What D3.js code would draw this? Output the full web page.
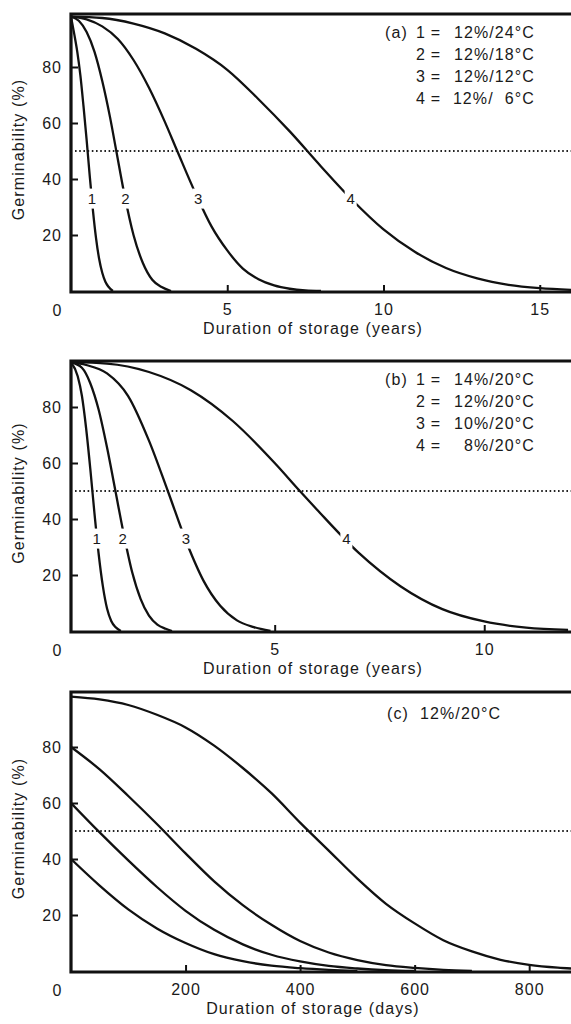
<!DOCTYPE html>
<html>
<head>
<meta charset="utf-8">
<script src="https://cdn.jsdelivr.net/npm/d3@7"></script>
<style>
  body { margin: 0; background: #fff; }
  text { font-family: "Liberation Sans", Arial, sans-serif; fill: #1a1a1a; }
</style>
</head>
<body>
<div id="chart"></div>
<script>
// tick values
const yTicks = [20, 40, 60, 80];
const aTicks = [5, 10, 15];
const bTicks = [5, 10];
const cTicks = [200, 400, 600, 800];

// legends
const aNums = ["1", "2", "3", "4"];
const aLegend = ["12%/24°C", "12%/18°C", "12%/12°C", "12%/  6°C"];
const bNums = ["1", "2", "3", "4"];
const bLegend = ["14%/20°C", "12%/20°C", "10%/20°C", "8%/20°C"];
const cLegend = "(c)  12%/20°C";

// curve label positions (x value where number sits, at ~33 %)
const aLabelX = [0.67, 1.74, 4.07, 8.95];
const bLabelX = [0.75, 1.37, 2.88, 6.71];
const labelY = 33;

// panel (a): years vs germinability
const aCurve1 = [[0,98],[0.1,92],[0.2,85.5],[0.3,77],[0.4,66],[0.5,54],[0.6,41],[0.7,29],[0.8,19],[0.9,11.5],[1.0,6.5],[1.1,3.3],[1.2,1.5],[1.34,0]];
const aCurve2 = [[0,98],[0.25,96.5],[0.5,92.5],[0.75,85.5],[1.0,75],[1.25,62],[1.45,50],[1.7,35],[2.0,20],[2.3,10],[2.6,4],[2.9,1.4],[3.2,0]];
const aCurve3 = [[0,98],[0.5,97],[1,94.5],[1.5,90],[2,82.5],[2.5,72.5],[3,60.5],[3.4,50],[4,34.5],[4.5,23],[5,14.5],[5.5,8],[6,4.2],[6.5,2],[7,0.8],[7.5,0.2],[8,0]];
const aCurve4 = [[0,98],[1,97.5],[2,95.5],[3,92],[4,86.5],[5,79],[6,68.5],[7,57],[8,44.5],[9,32.5],[10,22],[11,14],[12,8.2],[13,4.5],[14,2.2],[15,1],[16,0.4]];

// panel (b)
const bCurve1 = [[0.14,96],[0.3,91],[0.4,84],[0.5,72.5],[0.6,58],[0.7,42],[0.8,27.5],[0.9,16],[1.0,8],[1.1,3.6],[1.2,1.4],[1.33,0]];
const bCurve2 = [[0.14,96],[0.4,94],[0.6,88.5],[0.8,79],[1.0,65.5],[1.2,50],[1.4,34.5],[1.6,21],[1.8,11.5],[2.0,5.5],[2.2,2.3],[2.4,0.8],[2.55,0]];
const bCurve3 = [[0.14,96],[0.5,95],[1.0,92],[1.5,84],[2.0,68],[2.45,50],[2.9,31.5],[3.3,18],[3.7,9],[4.1,3.8],[4.5,1.4],[4.9,0]];
const bCurve4 = [[0.14,96],[1,95.5],[2,92.5],[3,86],[4,75],[5,60],[5.6,50],[6,43.5],[7,28],[8,16],[9,7.8],[10,3.4],[11,1.2],[12,0.4]];

// panel (c): days
const cCurve1 = [[0,98],[50,97],[100,95],[150,91.5],[200,87],[250,80.5],[300,72.5],[350,63.5],[400,53],[450,43],[500,33],[550,24],[600,17],[650,11],[700,7],[750,4],[800,2.2],[850,1.2],[873,0.9]];
const cCurve2 = [[0,80],[50,72],[100,62.5],[150,52.5],[200,42],[250,32],[300,23.5],[350,16.5],[400,10.7],[450,6.6],[500,3.9],[550,2.1],[600,1.1],[650,0.4],[700,0]];
const cCurve3 = [[0,60],[50,49.5],[100,39.5],[150,30],[200,21.5],[250,14.7],[300,9.5],[350,5.8],[400,3.4],[450,1.8],[500,0.9],[550,0.3],[600,0]];
const cCurve4 = [[0,40],[50,30.5],[100,22],[150,15.2],[200,10],[250,6],[300,3.5],[350,1.9],[400,1],[450,0.4],[500,0]];

const halfLine = 50;

const width = 571, height = 1024;
const left = 71, right = 574;

const svg = d3.select("#chart").append("svg")
    .attr("width", width)
    .attr("height", height);

const panels = [
    { id: "a", top: 14, base: 291, xDomain: [0, 16], ticks: aTicks, unit: "years",
      curves: [aCurve1, aCurve2, aCurve3, aCurve4], labelX: aLabelX, nums: aNums, legend: aLegend, tag: "(a)" },
    { id: "b", top: 361, base: 631, xDomain: [0.14, 12.07], ticks: bTicks, unit: "years",
      curves: [bCurve1, bCurve2, bCurve3, bCurve4], labelX: bLabelX, nums: bNums, legend: bLegend, tag: "(b)" },
    { id: "c", top: 692, base: 971, xDomain: [0, 873], ticks: cTicks, unit: "days",
      curves: [cCurve1, cCurve2, cCurve3, cCurve4], labelX: null, legend: null }
];

panels.forEach(p => {
    const x = d3.scaleLinear().domain(p.xDomain).range([left, right - 3]);
    const y = d3.scaleLinear().domain([0, 100]).range([p.base, p.base - 280]);

    const g = svg.append("g");

    g.append("clipPath").attr("id", "clip-" + p.id)
        .append("rect")
        .attr("x", left).attr("y", p.top)
        .attr("width", right - left).attr("height", p.base - p.top + 1);

    // 50% dotted line
    g.append("line")
        .attr("x1", left + 4).attr("x2", right)
        .attr("y1", y(halfLine)).attr("y2", y(halfLine))
        .attr("stroke", "#222")
        .attr("stroke-width", 2)
        .attr("stroke-dasharray", "1.6,2.6");

    const line = d3.line()
        .x(d => x(d[0]))
        .y(d => y(d[1]))
        .curve(d3.curveMonotoneX);

    g.append("g")
        .attr("clip-path", `url(#clip-${p.id})`)
        .selectAll("path")
        .data(p.curves)
        .join("path")
        .attr("d", line)
        .attr("fill", "none")
        .attr("stroke", "#111")
        .attr("stroke-width", 2.3);

    // numbers sitting on the curves
    if (p.labelX) {
        const lab = g.append("g").selectAll("g")
            .data(p.labelX)
            .join("g")
            .attr("transform", d => `translate(${x(d)},${y(labelY)})`);
        lab.append("rect")
            .attr("x", -6).attr("y", -10)
            .attr("width", 12).attr("height", 20)
            .attr("fill", "#fff");
        lab.append("text")
            .attr("text-anchor", "middle")
            .attr("dy", "0.36em")
            .style("font-size", "15px")
            .text((d, i) => p.nums[i]);
    }

    // axes
    const xAxis = d3.axisBottom(x)
        .tickValues(p.ticks)
        .tickSizeInner(-7)
        .tickSizeOuter(0)
        .tickPadding(12)
        .tickFormat(d3.format("d"));
    const gx = g.append("g")
        .attr("transform", `translate(0,${p.base + 1})`)
        .call(xAxis);
    gx.select(".domain").remove();
    gx.selectAll("line").attr("stroke", "#111").attr("stroke-width", 2);
    gx.selectAll("text").style("font-size", "16px").style("letter-spacing", "1px");

    const yAxis = d3.axisLeft(y)
        .tickValues(yTicks)
        .tickSizeInner(-7)
        .tickSizeOuter(0)
        .tickPadding(9);
    const gy = g.append("g")
        .attr("transform", `translate(${left},0)`)
        .call(yAxis);
    gy.select(".domain").remove();
    gy.selectAll("line").attr("stroke", "#111").attr("stroke-width", 2);
    gy.selectAll("text").style("font-size", "16px").style("letter-spacing", "1px");

    // origin label
    g.append("text")
        .attr("x", left - 14).attr("y", p.base + 19)
        .attr("text-anchor", "middle")
        .attr("dy", "0.35em")
        .style("font-size", "16px")
        .text("0");

    // frame
    g.append("path")
        .attr("d", `M${right},${p.top}H${left}V${p.base + 1}H${right}`)
        .attr("fill", "none")
        .attr("stroke", "#111")
        .attr("stroke-width", 3.2);

    // axis titles
    g.append("text")
        .attr("x", 313).attr("y", p.base + 37)
        .attr("text-anchor", "middle")
        .attr("dy", "0.35em")
        .style("font-size", "16px")
        .style("letter-spacing", "1.1px")
        .text(`Duration of storage (${p.unit})`);

    g.append("text")
        .attr("transform", `translate(18,${(p.top + p.base) / 2 - 3}) rotate(-90)`)
        .attr("text-anchor", "middle")
        .attr("dy", "0.35em")
        .style("font-size", "16px")
        .style("letter-spacing", "1.1px")
        .text("Germinability (%)");

    // legend
    if (p.legend) {
        const leg = g.append("g")
            .style("font-size", "16px")
            .style("letter-spacing", "1.1px");
        leg.append("text")
            .attr("x", 385).attr("y", p.top + 18)
            .attr("dy", "0.35em")
            .text(p.tag);
        p.legend.forEach((s, i) => {
            const yy = p.top + 18 + i * 22;
            leg.append("text").attr("x", 421).attr("y", yy).attr("dy", "0.35em")
                .attr("text-anchor", "middle").text(p.nums[i]);
            leg.append("text").attr("x", 436).attr("y", yy).attr("dy", "0.35em")
                .attr("text-anchor", "middle").text("=");
            leg.append("text").attr("x", 535).attr("y", yy).attr("dy", "0.35em")
                .attr("text-anchor", "end")
                .style("white-space", "pre")
                .text(s);
        });
    } else {
        g.append("text")
            .attr("x", 387).attr("y", p.top + 21)
            .attr("dy", "0.35em")
            .style("font-size", "16px")
            .style("letter-spacing", "1.1px")
            .style("white-space", "pre")
            .text(cLegend);
    }
});
</script>
</body>
</html>
